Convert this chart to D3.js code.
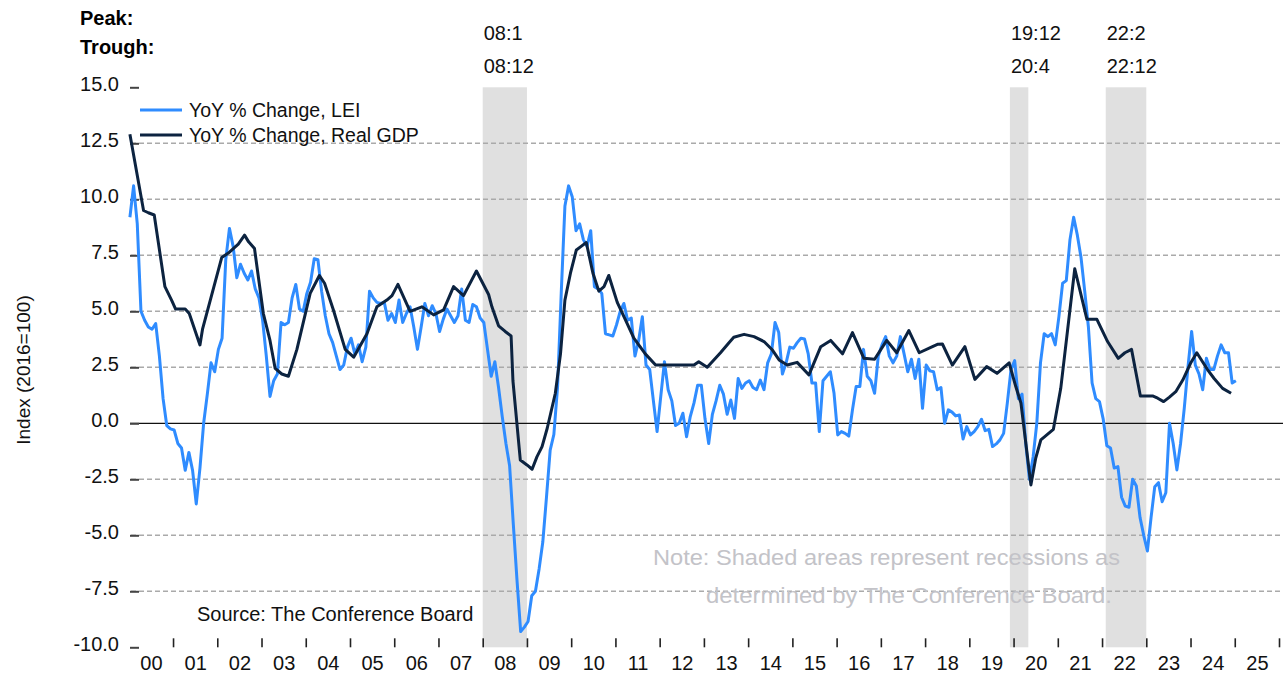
<!DOCTYPE html>
<html>
<head>
<meta charset="utf-8">
<script src="https://cdn.jsdelivr.net/npm/d3@7"></script>
<style>
  html, body { margin: 0; padding: 0; background: white; }
  #container { width: 1283px; height: 675px; }
  text { font-family: 'Liberation Sans', Arial, sans-serif; }
</style>
</head>
<body>
<div id="container"></div>
<script>
// LEI, yoy % change, monthly from Jan 2000
let leiValues = [
  9.2, 10.6, 8.9, 5.0, 4.6, 4.3, 4.2, 4.45, 3.0, 1.1,
  -0.1, -0.25, -0.3, -0.9, -1.1, -2.1, -1.3, -2.1, -3.6, -2.0,
  0.0, 1.3, 2.7, 2.3, 3.3, 3.8, 7.3, 8.7, 7.9, 6.5,
  7.1, 6.7, 6.4, 6.8, 6.0, 5.6, 4.6, 3.0, 1.2, 1.9,
  2.2, 4.5, 4.4, 4.5, 5.6, 6.2, 5.1, 5.0, 5.8, 6.3,
  7.35, 7.3, 5.9, 4.8, 4.0, 3.6, 3.0, 2.4, 2.6, 3.4,
  3.8, 3.1, 3.5, 2.75, 3.4, 5.9, 5.6, 5.4, 5.35, 5.4,
  4.6, 4.9, 4.5, 5.5, 4.5, 4.9, 5.2, 4.3, 3.3, 4.3,
  5.35, 4.8, 5.25, 4.9, 4.1, 4.65, 5.1, 4.8, 4.5, 4.8,
  6.0, 4.6, 4.5, 5.3, 5.2, 4.7, 4.5, 3.3, 2.1, 2.75,
  1.6, 0.3, -0.9, -1.9, -4.5, -7.0, -9.3, -9.1, -8.85, -7.7,
  -7.5, -6.5, -5.3, -3.3, -1.2, -0.5, 1.6, 5.8, 9.7, 10.6,
  10.1, 8.6, 8.9, 8.2, 7.9, 8.6, 6.1, 6.0, 5.8, 4.0,
  3.95, 3.9, 4.4, 5.0, 5.35, 4.6, 4.7, 3.0, 3.7, 4.76,
  2.6, 2.4, 1.0, -0.37, 1.2, 2.75, 1.5, 1.0, -0.1, 0.0,
  0.45, -0.6, 0.3, 0.9, 1.7, 1.7, 0.2, -0.9, 0.4, 1.0,
  1.7, 1.3, 0.4, 1.04, 0.22, 2.0, 1.56, 1.8, 1.9, 1.6,
  1.5, 1.93, 1.5, 2.7, 3.1, 4.5, 4.05, 2.2, 2.7, 3.4,
  3.35, 3.6, 3.8, 3.76, 3.1, 1.8, 1.8, -0.37, 1.9, 2.1,
  2.3, 1.34, -0.52, -0.37, -0.45, -0.57, 0.6, 1.64, 1.64, 3.3,
  2.1, 1.9, 1.34, 3.0, 3.5, 3.87, 3.0, 2.7, 3.0, 3.87,
  3.1, 2.3, 2.86, 2.0, 2.86, 0.67, 2.6, 2.34, 2.3, 1.5,
  1.6, 0.0, 0.6, 0.5, 0.33, 0.37, -0.7, -0.15, -0.52, -0.37,
  -0.15, 0.18, -0.33, -0.27, -1.04, -0.92, -0.74, -0.45, 0.9, 2.4,
  2.8, 1.1, 1.3, -0.9, -2.5, -1.5, 0.0, 2.7, 4.0, 3.87,
  4.0, 3.5, 4.76, 6.25, 6.37, 8.2, 9.2, 8.4, 7.4, 5.9,
  4.3, 1.8, 1.1, 0.97, 0.2, -1.0, -1.1, -2.0, -1.93, -3.3,
  -3.7, -3.75, -2.5, -2.8, -4.2, -5.0, -5.7, -4.2, -2.83, -2.65,
  -3.5, -3.1, 0.0, -0.9, -2.08, -0.9, 0.67, 2.5, 4.1, 2.6,
  2.2, 1.5, 2.9, 2.4, 2.4, 3.0, 3.5, 3.15, 3.15, 1.8,
  1.9
];

// real GDP yoy % change (months since Jan 2000)
let gdpMonth = [
  0.3, 4, 5.3, 6.9, 9.8, 11.6, 12.7, 15.3, 16.4, 19.3, 20, 25.2, 27, 29.7, 31.4, 32.5,
  34.1, 36.5, 38.3, 39.7, 41.5, 43.3, 45.6, 49.2, 51.7, 53.1, 55.5, 58.7, 61, 64.6,
  67.3, 70, 71.4, 73, 76.3, 79.5, 82.7, 85.4, 88.1, 90.8, 94.3, 97.6, 98.5, 100.3,
  102.1, 103.7, 104.2, 106.2, 108, 109.4, 110.7, 112.1, 113.5, 115.7, 117.1, 118.3,
  119.8, 121.4, 122.7, 124.1, 125.9, 127.5, 128.9, 130.2, 132.5, 134.5, 137, 140.1,
  142.9, 153.3, 154.6, 156.9, 160.5, 162.8, 164.1, 166.9, 169.6, 172.3, 174.6, 176.4,
  178.6, 181.3, 184.5, 187.7, 190.4, 193.6, 196.3, 199.4, 202.3, 205.6, 208.3, 211.6,
  214.4, 218, 219.5, 220.7, 223.4, 226.8, 229.5, 232.7, 235.5, 238.8, 240.6, 242,
  244.7, 246, 247.4, 250.8, 252.8, 256.6, 259.9, 262.6, 265.5, 268.4, 270.2, 272,
  274.4, 277.7, 279.1, 280.7, 282.2, 284, 285.9, 288, 289.7, 292.6, 294.4, 296.7, 299
];
let gdpValue = [
  12.9, 9.5, 9.4, 9.3, 6.1, 5.5, 5.1, 5.1, 4.9, 3.5, 4.2, 7.4, 7.6, 8.0, 8.4, 8.1,
  7.8, 4.9, 3.7, 2.45, 2.2, 2.1, 3.3, 5.8, 6.6, 6.25, 5.06, 3.3, 2.95, 4.0,
  5.2, 5.5, 5.7, 6.2, 5.0, 5.2, 4.84, 5.06, 6.1, 5.7, 6.8, 5.75, 5.2, 4.35,
  4.1, 3.9, 1.9, -1.64, -1.86, -2.05, -1.5, -1.04, -0.22, 1.34, 3.1, 5.5,
  6.7, 7.74, 7.9, 8.07, 6.7, 5.9, 6.1, 6.6, 5.4, 4.7, 3.8, 3.1,
  2.6, 2.6, 2.75, 2.5, 3.15, 3.6, 3.84, 3.97, 3.87, 3.65, 3.27, 2.83,
  2.6, 2.72, 2.16, 3.42, 3.7, 3.1, 4.05, 2.9, 2.86, 3.7, 3.15, 4.14,
  3.15, 3.42, 3.53, 3.54, 2.6, 3.42, 1.96, 2.53, 2.23, 2.7, 1.64, 0.9,
  -2.75, -1.56, -0.74, -0.27, 1.56, 6.9, 4.64, 4.64, 3.65, 2.9, 3.15, 3.3,
  1.22, 1.22, 1.12, 0.97, 1.16, 1.41, 1.93, 2.68, 3.15, 2.4, 2.0, 1.56, 1.34
];

let recessionPeak = ['08:1', '19:12', '22:2'];
let recessionTrough = ['08:12', '20:4', '22:12'];
let recessionStart = [2008 + 0 / 12, 2019 + 11 / 12, 2022 + 1 / 12];
let recessionEnd = [2009, 2020 + 4 / 12, 2023];

let yTicks = [15, 12.5, 10, 7.5, 5, 2.5, 0, -2.5, -5, -7.5, -10];
let yearLabels = d3.range(0, 26).map(d => String(d).padStart(2, '0'));

let w = 1283,
    h = 675;

let viz = d3.select('#container')
    .append('svg')
      .attr('width', w)
      .attr('height', h)
      .style('background', 'white')
;

function main() {
    let x = d3.scaleLinear().domain([2000, 2026]).range([128.8, 1279]);
    let y = d3.scaleLinear().domain([-10, 15]).range([647.3, 87.3]);

    // recession shading
    viz.append('g').selectAll('rect')
        .data(recessionStart)
        .enter().append('rect')
          .attr('x', d => x(d))
          .attr('width', (d, i) => x(recessionEnd[i]) - x(d))
          .attr('y', y(15))
          .attr('height', y(-10) - y(15))
          .attr('fill', '#e0e0e0');

    // gridlines
    viz.append('g').selectAll('line')
        .data(yTicks.filter(d => d != 15 && d != -10 && d != 0))
        .enter().append('line')
          .attr('x1', 131).attr('x2', w)
          .attr('y1', d => y(d)).attr('y2', d => y(d))
          .attr('stroke', '#aaaaaa')
          .attr('stroke-width', 1.5)
          .attr('stroke-dasharray', '5,3');
    viz.append('line')
        .attr('x1', 130).attr('x2', w)
        .attr('y1', y(0)).attr('y2', y(0))
        .attr('stroke', '#111')
        .attr('stroke-width', 1.2);

    // y axis
    let yAxis = viz.append('g')
        .attr('transform', 'translate(139,0)')
        .call(d3.axisLeft(y).tickValues(yTicks).tickSize(9).tickPadding(11).tickFormat(d => d.toFixed(1)));
    yAxis.select('.domain').remove();
    yAxis.selectAll('line').attr('stroke', '#444').attr('stroke-width', 2);
    yAxis.selectAll('text')
        .attr('font-size', 20)
        .attr('fill', '#111')
        .attr('dy', '0.18em')
        .style('font-family', "'Liberation Sans', Arial, sans-serif");

    // x axis ticks at year boundaries
    let xTickAxis = viz.append('g')
        .attr('transform', 'translate(0,' + y(-10) + ')')
        .call(d3.axisBottom(x).tickValues(d3.range(2001, 2027)).tickSizeInner(-9).tickSizeOuter(0).tickFormat(''));
    xTickAxis.select('.domain').remove();
    xTickAxis.selectAll('line').attr('stroke', '#222').attr('stroke-width', 1.6);

    // x labels in the middle of each year
    let xLabelAxis = viz.append('g')
        .attr('transform', 'translate(0,' + y(-10) + ')')
        .call(d3.axisBottom(x).tickValues(d3.range(2000.5, 2026, 1)).tickSize(0).tickPadding(9)
            .tickFormat((d, i) => yearLabels[i]));
    xLabelAxis.select('.domain').remove();
    xLabelAxis.selectAll('text')
        .attr('font-size', 20)
        .attr('fill', '#111')
        .style('font-family', "'Liberation Sans', Arial, sans-serif");

    // lines
    let leiLine = d3.line()
        .x((d, i) => x(2000 + (i + 0.3) / 12))
        .y(d => y(d));
    viz.append('path')
        .datum(leiValues)
        .attr('d', leiLine)
        .attr('fill', 'none')
        .attr('stroke', '#2f8cff')
        .attr('stroke-width', 3)
        .attr('stroke-linejoin', 'round');

    let gdpLine = d3.line()
        .x((d, i) => x(2000 + gdpMonth[i] / 12))
        .y(d => y(d));
    viz.append('path')
        .datum(gdpValue)
        .attr('d', gdpLine)
        .attr('fill', 'none')
        .attr('stroke', '#0c2340')
        .attr('stroke-width', 3)
        .attr('stroke-linejoin', 'round');

    // peak / trough headings
    viz.append('text')
        .attr('x', 80).attr('y', 25)
        .attr('font-size', 20).attr('font-weight', 'bold')
        .text('Peak:');
    viz.append('text')
        .attr('x', 80).attr('y', 54)
        .attr('font-size', 20).attr('font-weight', 'bold')
        .text('Trough:');

    let recLabels = viz.append('g').attr('font-size', 20).attr('fill', '#111');
    recLabels.selectAll('.peak')
        .data(recessionPeak)
        .enter().append('text')
          .attr('class', 'peak')
          .attr('x', (d, i) => x(recessionStart[i]) + 1)
          .attr('y', 40)
          .text(d => d);
    recLabels.selectAll('.trough')
        .data(recessionTrough)
        .enter().append('text')
          .attr('class', 'trough')
          .attr('x', (d, i) => x(recessionStart[i]) + 1)
          .attr('y', 73)
          .text(d => d);

    // legend
    let legend = viz.append('g');
    legend.append('line')
        .attr('x1', 140).attr('x2', 182).attr('y1', 110).attr('y2', 110)
        .attr('stroke', '#2f8cff').attr('stroke-width', 3);
    legend.append('text')
        .attr('x', 189).attr('y', 117)
        .attr('font-size', 19.5).attr('fill', '#111')
        .text('YoY % Change, LEI');
    legend.append('line')
        .attr('x1', 140).attr('x2', 182).attr('y1', 135).attr('y2', 135)
        .attr('stroke', '#0c2340').attr('stroke-width', 3);
    legend.append('text')
        .attr('x', 189).attr('y', 142)
        .attr('font-size', 19.5).attr('fill', '#111')
        .text('YoY % Change, Real GDP');

    // y title
    viz.append('text')
        .attr('transform', 'translate(30,370) rotate(-90)')
        .attr('text-anchor', 'middle')
        .attr('font-size', 19).attr('fill', '#111')
        .text('Index (2016=100)');

    // source and note
    viz.append('text')
        .attr('x', 197).attr('y', 621)
        .attr('font-size', 20).attr('fill', '#111')
        .text('Source: The Conference Board');

    viz.append('text')
        .attr('x', 653).attr('y', 565)
        .attr('font-size', 22).attr('fill', '#c3c3c8')
        .attr('textLength', 467).attr('lengthAdjust', 'spacingAndGlyphs')
        .text('Note: Shaded areas represent recessions as');
    viz.append('text')
        .attr('x', 706).attr('y', 603)
        .attr('font-size', 22).attr('fill', '#c3c3c8')
        .attr('textLength', 406).attr('lengthAdjust', 'spacingAndGlyphs')
        .text('determined by The Conference Board.');
}

main();
</script>
</body>
</html>
